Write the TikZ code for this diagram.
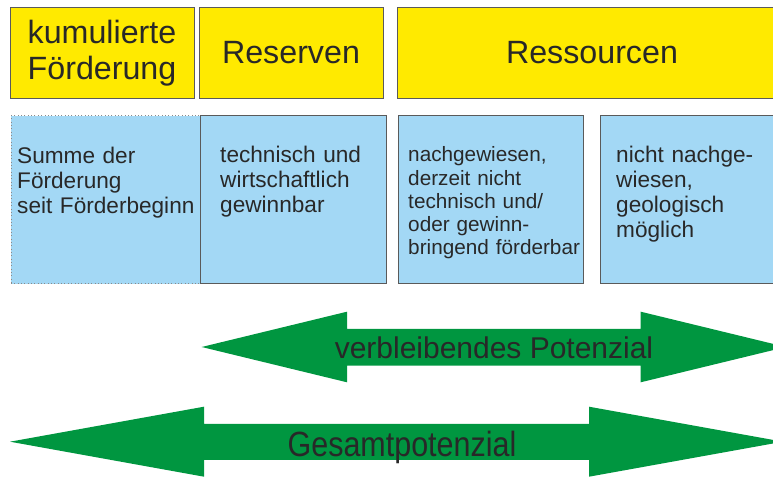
\documentclass[tikz,border=0pt]{standalone}
\usepackage{fontspec}
\setmainfont{Liberation Sans}
\usepackage{xcolor}
\usepackage{tikz}
\usetikzlibrary{calc}

\definecolor{boxyellow}{RGB}{255,234,0}
\definecolor{boxblue}{RGB}{163,216,245}
\definecolor{arrowgreen}{RGB}{0,150,64}
\definecolor{boxline}{RGB}{90,90,90}
\definecolor{textgrey}{RGB}{40,40,40}
\newcommand{\pu}{0.3mm}

\begin{document}
\begin{tikzpicture}[x=0.3mm,y=-0.3mm,
  headbox/.style={draw=boxline,fill=boxyellow,line width=0.3mm,inner sep=0pt,align=center,text=textgrey,font=\fontsize{27.5}{30.5}\selectfont},
  infobox/.style={draw=boxline,fill=boxblue,line width=0.3mm,inner sep=0pt},
  infotext/.style={anchor=base west,inner sep=0pt,text=textgrey,align=left,text width=190*\pu,font=\fontsize{19.3}{21.3}\selectfont},
  potarrow/.style={fill=arrowgreen},
  arrowtext/.style={anchor=base,inner sep=0pt,text=textgrey}]
  %\draw[help lines] (0,0) grid (773,477);
  \useasboundingbox (0,0) rectangle (773,477);
  \clip (0,0) rectangle (773,477);

  \draw (102,53)  node[headbox,minimum width=184*\pu,minimum height=91*\pu](kum)  {kumulierte\\F\"orderung};
  \draw (291,53)  node[headbox,minimum width=184*\pu,minimum height=91*\pu](res)  {Reserven};
  \draw (592,53)  node[headbox,minimum width=390*\pu,minimum height=91*\pu](ress) {Ressourcen};

  \draw (105.5,200) node[infobox,draw=boxline!70,dotted,minimum width=189*\pu,minimum height=168*\pu](sum) {};
  \draw (293,200)   node[infobox,minimum width=186*\pu,minimum height=168*\pu](tech)  {};
  \draw (490.5,200) node[infobox,minimum width=185*\pu,minimum height=168*\pu](nach)  {};
  \draw (695,200)   node[infobox,minimum width=190*\pu,minimum height=168*\pu](nicht) {};

  \draw (17,164)    node[infotext](sumtext)   {Summe der\\F\"orderung\\seit F\"orderbeginn};
  \draw (220,162.3) node[infotext](techtext)  {technisch und\\wirtschaftlich\\gewinnbar};
  \draw (408,161.7) node[infotext,font=\fontsize{17.7}{19.9}\selectfont](nachtext) {nachgewiesen,\\derzeit nicht\\technisch und/\\oder gewinn-\\bringend f\"orderbar};
  \draw (616,162.3) node[infotext](nichttext) {nicht nachge-\\wiesen,\\geologisch\\m\"oglich};

  \fill[potarrow] (201.7,347) -- (347,311.7) -- (347,329) -- (640.7,329) -- (640.7,311.7) -- (786,347)
    -- (640.7,382.3) -- (640.7,365.7) -- (347,365.7) -- (347,382.3) -- cycle;
  \fill[potarrow] (10,441.7) -- (204,406.7) -- (204,424) -- (589,424) -- (589,406.7) -- (783,441.7)
    -- (589,476.7) -- (589,460) -- (204,460) -- (204,476.7) -- cycle;

  \draw (494,358.3) node[arrowtext,font=\fontsize{25.6}{28}\selectfont](restpot) {verbleibendes Potenzial};
  \draw (402,456)   node[arrowtext,font=\fontsize{29.9}{32}\selectfont,xscale=0.87](gespot) {Gesamtpotenzial};

\end{tikzpicture}
\end{document}
